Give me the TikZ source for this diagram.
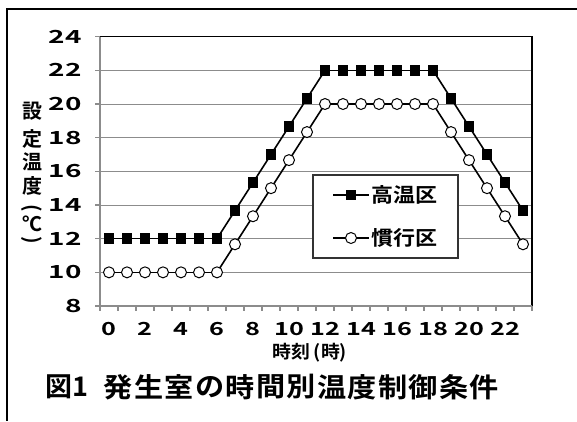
\documentclass[tikz,border=0pt]{standalone}
\usepackage{fontspec}
\newfontfamily\jp{Noto Sans CJK JP Bold}
\newcommand{\widen}[2]{\scalebox{#1}[1]{#2}}
\begin{document}
\begin{tikzpicture}[x=1pt,y=-1pt,
  frame/.style={line width=2.5pt},
  gridline/.style={draw=black!45, line width=1pt},
  axisline/.style={draw=black!45, line width=1.2pt},
  border/.style={draw=black, line width=1.3pt},
  sq/.style={rectangle, fill=black, minimum size=10.5pt, inner sep=0pt},
  ci/.style={circle, draw=black, fill=white, line width=1pt, minimum size=11pt, inner sep=0pt},
  ser/.style={line width=1.6pt},
  ylab/.style={anchor=east, font=\jp\fontsize{18}{18}\selectfont, inner sep=0pt},
  xlab/.style={anchor=center, font=\jp\fontsize{18}{18}\selectfont, inner sep=0pt},
  vt/.style={font=\jp\fontsize{20}{20}\selectfont, inner sep=0pt},
  vp/.style={font=\jp\fontsize{20}{20}\selectfont, inner sep=0pt, rotate=-90},
  capchar/.style={font=\jp\fontsize{27}{27}\selectfont, inner sep=0pt, anchor=center},
]
\useasboundingbox (0,0) rectangle (577,421);
\fill[white] (0,0) rectangle (577,421);
% outer frame (top and left)
\coordinate (ftl) at (7,9);
\coordinate (ftr) at (577,9);
\coordinate (fbl) at (7,421);
\draw[frame] (ftr) -- (ftl) -- (fbl);

\begin{scope}[shift={(109,306)}, x=18pt, y=16.833pt]
  % grid
  \foreach \v in {10,12,...,22} \draw[gridline] (-0.5,\v-8) -- (23.5,\v-8);
  % plot border top and right
  \draw[border] (-0.5,16) -- (23.5,16) -- (23.5,0);
  % axes
  \draw[axisline] (-0.5,16) -- (-0.5,0) -- (23.5,0);
  \foreach \v in {8,10,...,24} \draw[axisline] (-0.5,\v-8) -- ++(-5pt,0);
  \foreach \k in {0,...,24} \draw[axisline] (\k-0.5,0) -- ++(0,-5pt);
  % y labels
  \foreach \v in {8,10,...,24} \node[ylab] (yl\v) at ([xshift=-18pt]-0.5,\v-8) {\widen{1.55}{\v}};
  % x labels
  \foreach \h in {0,2,...,22} \node[xlab] (xl\h) at ([yshift=-23pt]\h,0) {\widen{1.4}{\h}};
  % series
  \foreach \v [count=\i from 0] in {12,12,12,12,12,12,12,13.667,15.333,17,18.667,20.333,22,22,22,22,22,22,22,20.333,18.667,17,15.333,13.667}
    \coordinate (hp\i) at (\i,\v-8);
  \foreach \v [count=\i from 0] in {10,10,10,10,10,10,10,11.667,13.333,15,16.667,18.333,20,20,20,20,20,20,20,18.333,16.667,15,13.333,11.667}
    \coordinate (cp\i) at (\i,\v-8);
  \foreach \i [count=\j from 1] in {0,...,22} {
    \draw[ser] (hp\i) -- (hp\j);
    \draw[ser] (cp\i) -- (cp\j);
  }
  \foreach \i in {0,...,23} {
    \node[sq] (h\i) at (hp\i) {};
    \node[ci] (c\i) at (cp\i) {};
  }
\end{scope}

% legend
\node[draw=black!80, line width=1.3pt, fill=white, minimum width=145pt, minimum height=83pt, inner sep=0pt] (leg) at (385.5,216.5) {};
\coordinate (l1a) at (333,195);
\coordinate (l1b) at (369,195);
\draw[ser] (l1a) -- (l1b);
\node[sq] (lm1) at (351,195) {};
\node[anchor=west, font=\jp\fontsize{20}{20}\selectfont, inner sep=0pt] (lt1) at (371,195) {\widen{1.1}{高温区}};
\coordinate (l2a) at (333,238);
\coordinate (l2b) at (369,238);
\draw[ser] (l2a) -- (l2b);
\node[ci] (lm2) at (351,238) {};
\node[anchor=west, font=\jp\fontsize{20}{20}\selectfont, inner sep=0pt] (lt2) at (371,238) {\widen{1.1}{慣行区}};

% y axis title
\node[vt] (t1) at (32,111) {設};
\node[vt] (t2) at (32,139) {定};
\node[vt] (t3) at (32,162) {温};
\node[vt] (t4) at (32,186) {度};
\node[vp] (t5) at (32,208) {(};
\node[vt] (t6) at (32,224) {℃};
\node[vp] (t7) at (32,240) {)};

% x axis title
\node[font=\jp\fontsize{18}{18}\selectfont, inner sep=0pt] (xt) at (310,353) {\widen{1.05}{時刻\,(時)}};

% caption
\node[capchar] (capa) at (58.5,387) {図};
\node[capchar] (capb) at (80.5,387) {1};
\foreach \c [count=\k from 0] in {発,生,室,の,時,間,別,温,度,制,御,条,件}
  \node[capchar] (cap\k) at (118.5+30.5*\k,387) {\widen{1.08}{\c}};
\end{tikzpicture}
\end{document}
